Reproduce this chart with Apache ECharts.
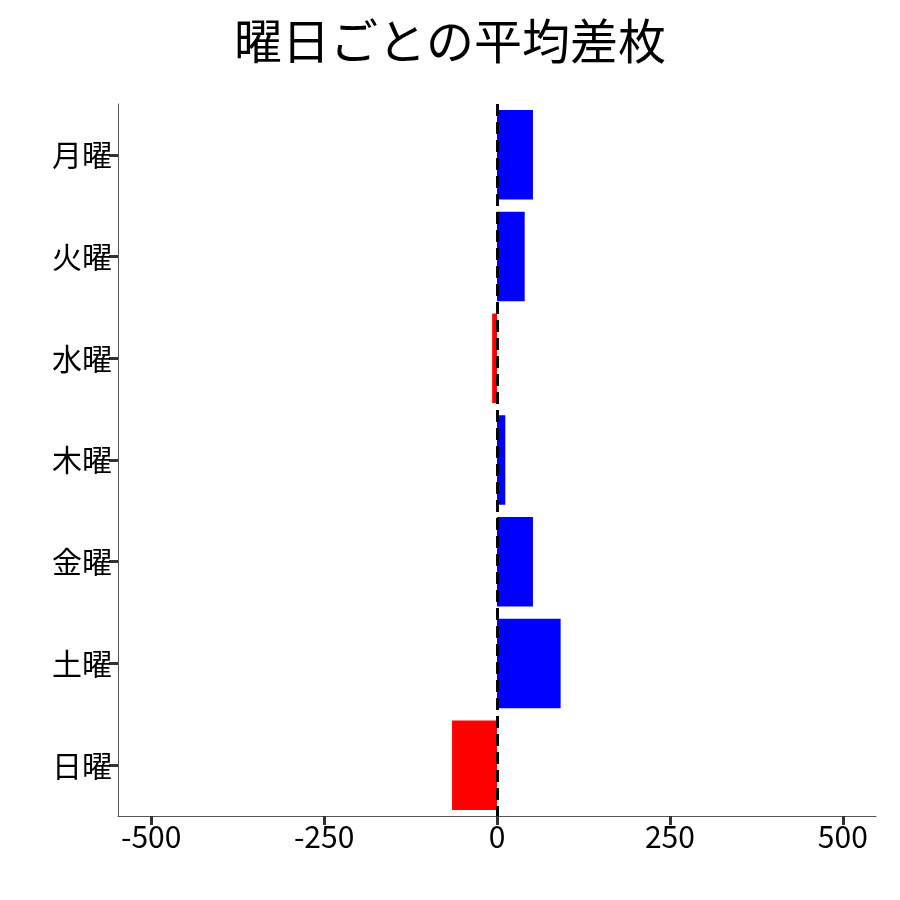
<!DOCTYPE html>
<html>
<head>
<meta charset="utf-8">
<script src="https://cdn.jsdelivr.net/npm/echarts@6/dist/echarts.min.js"></script>
<style>html,body{margin:0;background:#fff}#c{width:900px;height:900px}</style>
</head>
<body>
<div id="c"></div>
<script>
// 曜日ごとの平均差枚
const days = ['月曜', '火曜', '水曜', '木曜', '金曜', '土曜', '日曜']
const diffs = [52, 40, -7, 12, 52, 92, -65]
const xTicks = [-500, -250, 0, 250, 500]

const myChart = echarts.init(document.getElementById('c'))
const font = "'Noto Sans CJK JP', sans-serif"
myChart.setOption({
  animation: false,
  title: {
    text: '曜日ごとの平均差枚',
    left: 'center',
    top: 12,
    textStyle: { fontFamily: font, fontSize: 48, fontWeight: 'normal', color: '#000' },
  },
  grid: { left: 118, right: 24, top: 104, bottom: 84 },
  xAxis: {
    type: 'value',
    min: -548,
    max: 548,
    splitLine: { show: false },
    axisLine: { show: true, onZero: false, lineStyle: { color: '#555', width: 1 } },
    axisTick: { show: true, length: 9, customValues: xTicks, lineStyle: { color: '#333', width: 3 } },
    axisLabel: {
      customValues: xTicks,
      color: '#000',
      fontFamily: font,
      fontSize: 30,
      margin: 6,
    },
  },
  yAxis: {
    type: 'category',
    inverse: true,
    data: days,
    axisLine: { show: true, onZero: false, lineStyle: { color: '#555', width: 1 } },
    axisTick: { show: true, alignWithLabel: true, length: 9, lineStyle: { color: '#333', width: 3 } },
    axisLabel: { color: '#000', fontFamily: font, fontSize: 30, margin: 6 },
  },
  series: [
    {
      type: 'bar',
      barWidth: '88%',
      data: diffs.map((v) => ({ value: v, itemStyle: { color: v >= 0 ? '#0000ff' : '#ff0000' } })),
      markLine: {
        symbol: 'none',
        silent: true,
        label: { show: false },
        lineStyle: { color: '#000', type: 'dashed', width: 3 },
        data: [{ xAxis: 0 }],
      },
    },
  ],
})
</script>
</body>
</html>
